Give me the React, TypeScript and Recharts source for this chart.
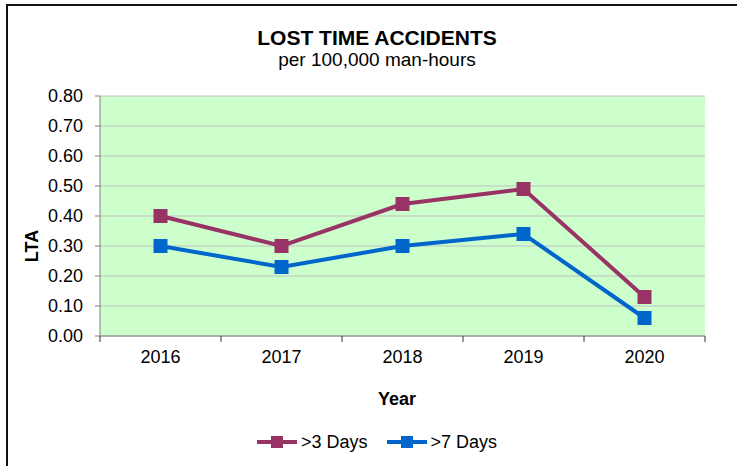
import React from 'react';
import { LineChart, Line, XAxis, YAxis, CartesianGrid, Legend } from 'recharts';

const years = ['2016', '2017', '2018', '2019', '2020'];
const over3Days = [0.4, 0.3, 0.44, 0.49, 0.13];
const over7Days = [0.3, 0.23, 0.3, 0.34, 0.06];
const yTicks = [0, 0.1, 0.2, 0.3, 0.4, 0.5, 0.6, 0.7, 0.8];

const data = years.map((year, i) => ({ year, d3: over3Days[i], d7: over7Days[i] }));

const W = 737;
const H = 466;
const PLOT_LEFT = 100;
const PLOT_RIGHT = 705;
const BAND = (PLOT_RIGHT - PLOT_LEFT) / years.length;
const FONT = '"Liberation Sans", Arial, sans-serif';
const MAROON = '#993366';
const BLUE = '#0066CC';

const SquareDot = (props: any) => {
  const { cx, cy, fill } = props;
  if (cx == null || cy == null) return null;
  return <rect x={cx - 7} y={cy - 7} width={14} height={14} fill={fill} />;
};

const YearTick = (props: any) => {
  const { x, y, payload, index } = props;
  return (
    <g>
      <line x1={x - BAND / 2} x2={x - BAND / 2} y1={y - 8} y2={y - 2} stroke="#333" />
      {index === years.length - 1 && (
        <line x1={x + BAND / 2} x2={x + BAND / 2} y1={y - 8} y2={y - 2} stroke="#333" />
      )}
      <text x={x} y={y + 19} textAnchor="middle" fontSize={18} fill="#000" fontFamily={FONT}>
        {payload.value}
      </text>
    </g>
  );
};

const LegendBox = () => (
  <div style={{ display: 'flex', justifyContent: 'center', gap: 19, fontFamily: FONT, fontSize: 18, height: 20, lineHeight: '20px' }}>
    {[
      { name: '>3 Days', color: MAROON },
      { name: '>7 Days', color: BLUE },
    ].map((s) => (
      <div key={s.name} style={{ display: 'flex', alignItems: 'center' }}>
        <svg width={40} height={14} style={{ marginRight: 4 }}>
          <line x1={0} x2={40} y1={7} y2={7} stroke={s.color} strokeWidth={4} />
          <rect x={14} y={1} width={12} height={12} fill={s.color} />
        </svg>
        <span>{s.name}</span>
      </div>
    ))}
  </div>
);

export default function App() {
  return (
    <div style={{ position: 'absolute', left: 0, top: 0, width: W, height: H, background: '#fff' }}>
      <div style={{ position: 'absolute', left: 7, top: 4, width: W - 7, height: 2, background: '#111' }} />
      <div style={{ position: 'absolute', left: 6, top: 4, width: 2, height: H - 4, background: '#111' }} />
      <div
        style={{
          position: 'absolute',
          left: 0,
          width: 754,
          top: 27,
          textAlign: 'center',
          fontFamily: FONT,
          lineHeight: '22px',
        }}
      >
        <div style={{ fontWeight: 'bold', fontSize: 21 }}>LOST TIME ACCIDENTS</div>
        <div style={{ fontSize: 19 }}>per 100,000 man-hours</div>
      </div>
      <LineChart
        width={W}
        height={H}
        data={data}
        margin={{ top: 96, right: W - PLOT_RIGHT, bottom: 80, left: 40 }}
        style={{ position: 'absolute', left: 0, top: 0 }}
      >
        <CartesianGrid vertical={false} stroke="#c0c0c0" fill="#CCFFCC" fillOpacity={1} />
        <XAxis
          dataKey="year"
          scale="band"
          tick={<YearTick />}
          tickLine={false}
          axisLine={{ stroke: '#808080' }}
          height={30}
          interval={0}
          label={() => (
            <text x={397} y={405} textAnchor="middle" fontSize={18} fontWeight="bold" fill="#000" fontFamily={FONT}>
              Year
            </text>
          )}
        />
        <YAxis
          domain={[0, 0.8]}
          ticks={yTicks}
          width={60}
          tickFormatter={(v: number) => v.toFixed(2)}
          tick={{ fontSize: 18, fill: '#000', fontFamily: FONT }}
          tickSize={5}
          tickMargin={12}
          tickLine={{ stroke: '#808080' }}
          axisLine={{ stroke: '#808080' }}
          label={() => (
            <text
              x={38}
              y={246}
              textAnchor="middle"
              transform="rotate(-90 38 246)"
              fontSize={18}
              fontWeight="bold"
              fill="#000"
              fontFamily={FONT}
            >
              LTA
            </text>
          )}
        />
        <Legend
          content={<LegendBox />}
          wrapperStyle={{ position: 'absolute', top: 432, left: 0, width: 754, height: 20 }}
        />
        <Line
          dataKey="d3"
          name=">3 Days"
          stroke={MAROON}
          strokeWidth={4}
          fill={MAROON}
          dot={<SquareDot />}
          activeDot={false}
          isAnimationActive={false}
        />
        <Line
          dataKey="d7"
          name=">7 Days"
          stroke={BLUE}
          strokeWidth={4}
          fill={BLUE}
          dot={<SquareDot />}
          activeDot={false}
          isAnimationActive={false}
        />
      </LineChart>
    </div>
  );
}
